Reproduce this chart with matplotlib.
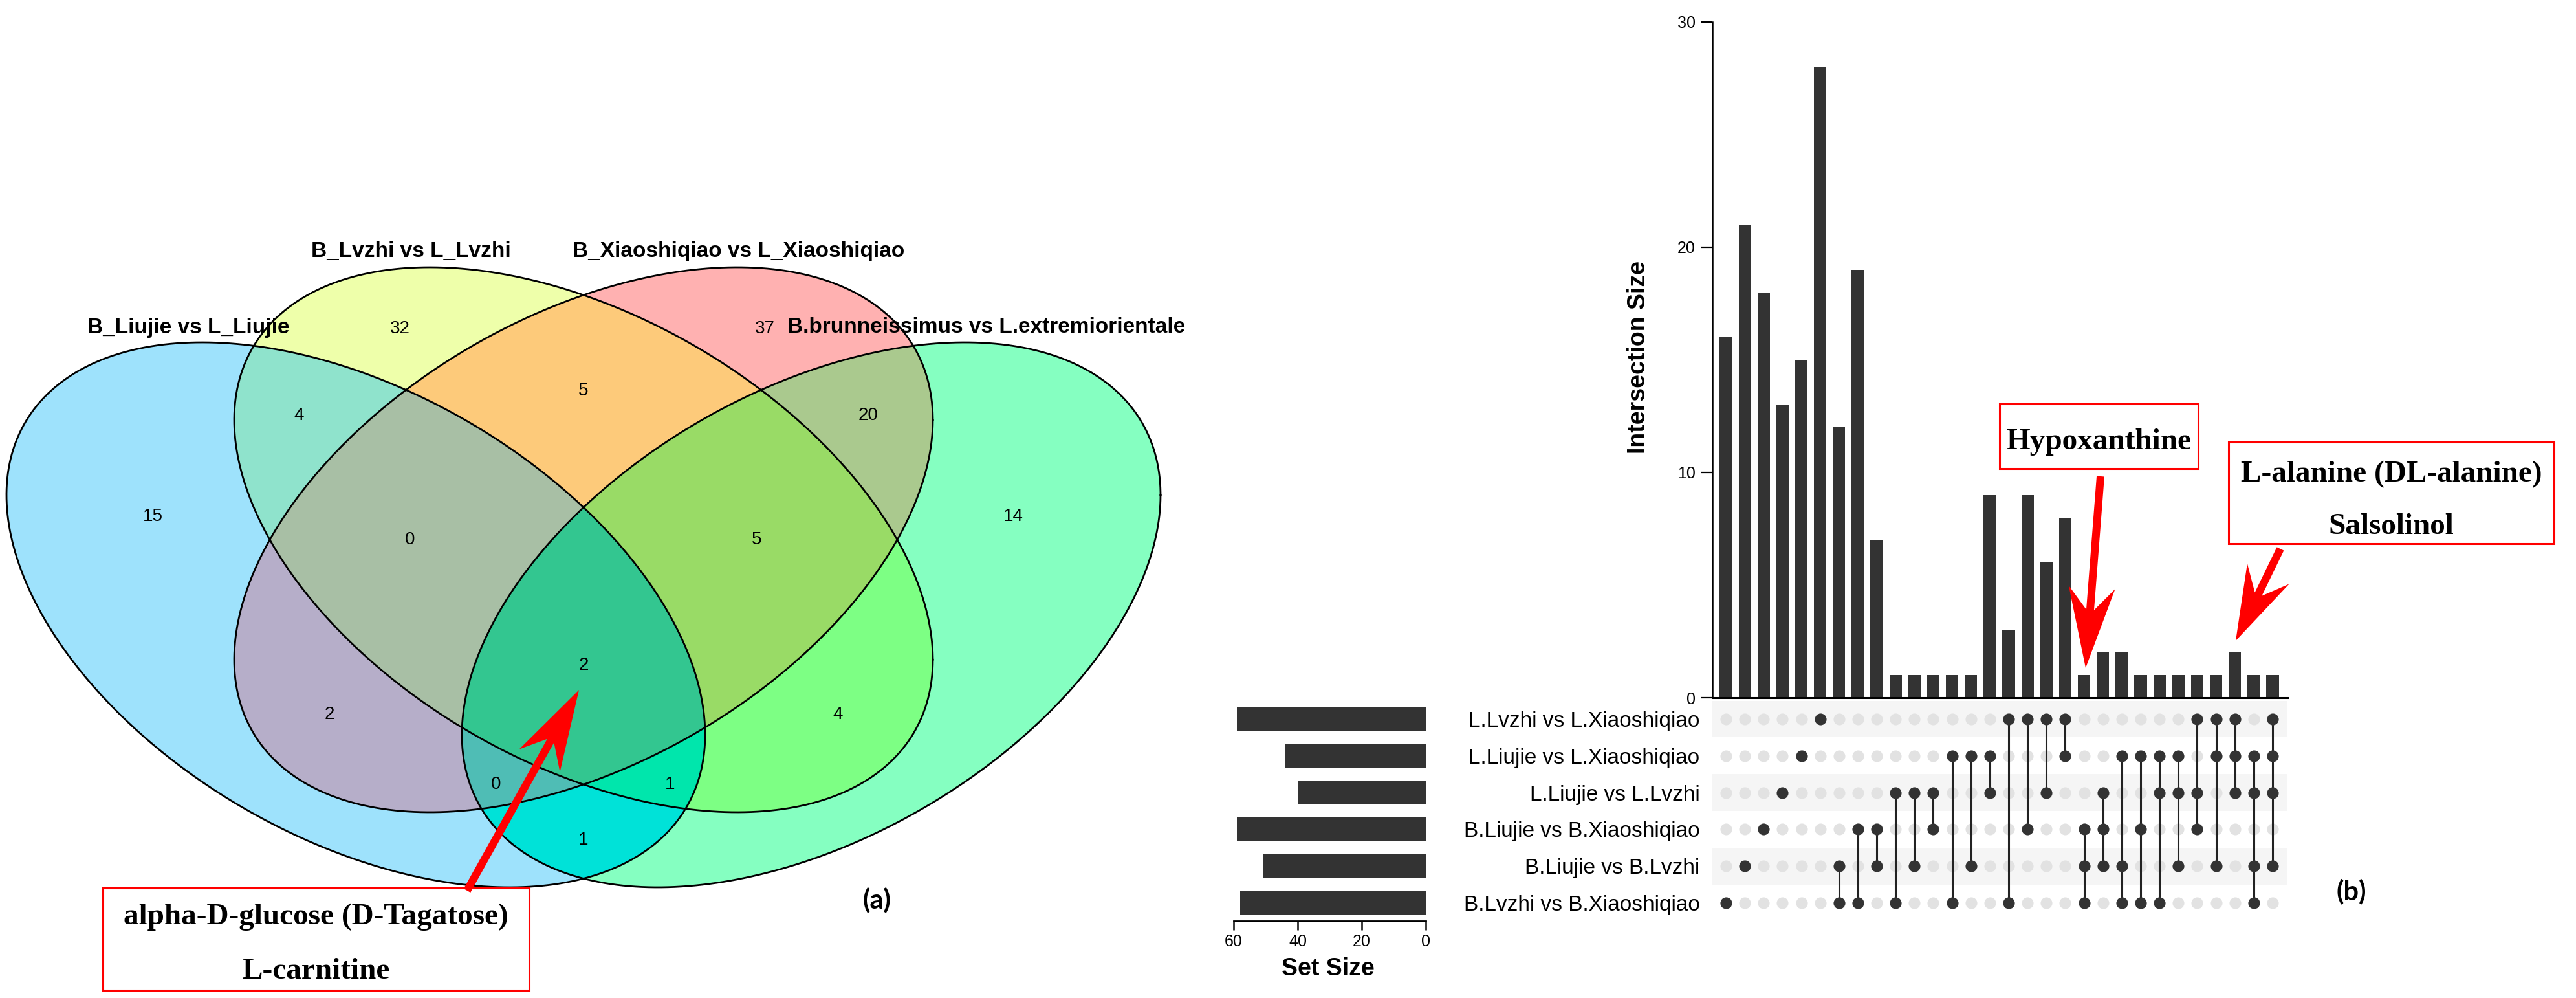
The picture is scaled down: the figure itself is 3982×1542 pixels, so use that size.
import numpy as np
import matplotlib
matplotlib.use("Agg")
import matplotlib.pyplot as plt
from matplotlib.patches import Rectangle, Polygon

plt.rcParams["font.family"] = ["Liberation Sans", "DejaVu Sans"]

# ---------------- data: Venn (a) ----------------
venn_sets = ["B_Liujie vs L_Liujie", "B_Lvzhi vs L_Lvzhi",
             "B_Xiaoshiqiao vs L_Xiaoshiqiao", "B.brunneissimus vs L.extremiorientale"]
venn_regions = ["A", "B", "C", "D", "AB", "BC", "CD", "AC", "BD", "AD",
                "ABC", "BCD", "ACD", "ABD", "ABCD"]
venn_counts = [15, 32, 37, 14, 4, 5, 20, 2, 4, 1, 0, 5, 0, 1, 2]

# ---------------- data: UpSet (b) ----------------
upset_sets = ["L.Lvzhi vs L.Xiaoshiqiao", "L.Liujie vs L.Xiaoshiqiao", "L.Liujie vs L.Lvzhi",
              "B.Liujie vs B.Xiaoshiqiao", "B.Liujie vs B.Lvzhi", "B.Lvzhi vs B.Xiaoshiqiao"]
upset_combos = [(5,), (4,), (3,), (2,), (1,), (0,), (4, 5), (3, 5), (3, 4), (2, 5),
                (2, 4), (2, 3), (1, 5), (1, 4), (1, 2), (0, 5), (0, 3), (0, 2), (0, 1),
                (3, 4, 5), (2, 3, 4), (1, 4, 5), (1, 3, 5), (1, 2, 5), (1, 2, 4),
                (0, 2, 3), (0, 1, 4), (0, 1, 2), (1, 2, 4, 5), (0, 1, 2, 4)]
upset_sizes = [16, 21, 18, 13, 15, 28, 12, 19, 7, 1, 1, 1, 1, 1, 9, 3, 9, 6, 8,
               1, 2, 2, 1, 1, 1, 1, 1, 2, 1, 1]

venn_note = ["alpha-D-glucose (D-Tagatose)", "L-carnitine"]
hypo_note = ["Hypoxanthine"]
ala_note = ["L-alanine (DL-alanine)", "Salsolinol"]

set_sizes = [sum(s for c, s in zip(upset_combos, upset_sizes) if r in c)
             for r in range(len(upset_sets))]

# ---------------- layout helpers (pixel space) ----------------
W, H = 3982, 1542
fig = plt.figure(figsize=(W / 100, H / 100), dpi=100)


def frac(l, t, r, b):
    return [l / W, 1 - b / H, (r - l) / W, (b - t) / H]


# ---------------- UpSet bars ----------------
xlo, xhi = -0.72, 29.79
axb = fig.add_axes(frac(2647, 34, 3536, 1078))
x = np.arange(len(upset_sizes))
axb.bar(x, upset_sizes, width=0.66, color="#333333")
axb.set_xlim(xlo, xhi)
axb.set_ylim(0, 30)
axb.set_yticks([0, 10, 20, 30])
axb.set_xticks([])
axb.patch.set_alpha(0)
for s in ["top", "right"]:
    axb.spines[s].set_visible(False)
axb.spines["left"].set_linewidth(1.8)
axb.spines["bottom"].set_linewidth(2.2)
axb.tick_params(axis="y", length=13, width=1.6, labelsize=18, pad=6)

# ---------------- UpSet matrix ----------------
axm = fig.add_axes(frac(2647, 1082.6, 3536, 1423.4))
axm.set_xlim(xlo, xhi)
axm.set_ylim(len(upset_sets) - 0.5, -0.5)
for r in range(0, len(upset_sets), 2):
    axm.axhspan(r - 0.5, r + 0.5, color="#f5f5f5", lw=0, zorder=0)
gx, gy = np.meshgrid(x, np.arange(len(upset_sets)))
axm.scatter(gx.ravel(), gy.ravel(), s=170, color="#e2e2e2", lw=0, zorder=1)
for i, c in enumerate(upset_combos):
    if len(c) > 1:
        axm.plot([i, i], [min(c), max(c)], color="#222222", lw=2.2, zorder=2)
    axm.scatter([i] * len(c), list(c), s=170, color="#333333", lw=0, zorder=3)
axm.set_yticks(range(len(upset_sets)))
axm.set_yticklabels(upset_sets, fontsize=24)
axm.set_xticks([])
axm.tick_params(axis="y", length=0, pad=14)
for s in axm.spines.values():
    s.set_visible(False)

# ---------------- set size bars ----------------
axs = fig.add_axes(frac(1907, 1082.6, 2204, 1423.4))
axs.barh(range(len(upset_sets)), set_sizes, height=0.65, color="#333333")
axs.set_xlim(60, 0)
axs.set_ylim(len(upset_sets) - 0.5, -0.5)
axs.set_xticks([60, 40, 20, 0])
axs.set_yticks([])
for s in ["top", "right", "left"]:
    axs.spines[s].set_visible(False)
axs.spines["bottom"].set_linewidth(2.0)
axs.tick_params(axis="x", length=10, width=1.8, labelsize=18, pad=4)

# ---------------- overlay: Venn + annotations ----------------
ov = fig.add_axes([0, 0, 1, 1])
ov.patch.set_alpha(0)
ov.axis("off")

# ellipse layout: centre and off-diagonal of the shape matrix
ell_shape = {"A": ((550, 950), 100000), "B": ((902, 834), 100000),
             "C": ((902, 834), -100000), "D": ((1254, 950), -100000)}
SXX, SYY = 540.0 ** 2, 421.0 ** 2
region_colors = {"A": "#9ee2fc", "B": "#eeffaa", "C": "#ffb1b1", "D": "#85ffc1",
                 "AB": "#8fe3cc", "BC": "#fdca7a", "CD": "#aac98e", "AC": "#b6aec9",
                 "BD": "#7dff84", "AD": "#00e2d8", "ABC": "#a8bfa5", "BCD": "#99db66",
                 "ACD": "#4fbdb5", "ABD": "#00e6ac", "ABCD": "#33c690"}

gxs = np.arange(0, 1850)
gys = np.arange(380, 1420)
PX, PY = np.meshgrid(gxs, gys)
code = np.full(PX.shape, "", dtype=object)
for k, ((cx, cy), sxy) in ell_shape.items():
    det = SXX * SYY - sxy ** 2
    dx, dy = PX - cx, PY - cy
    q = (SYY * dx ** 2 - 2 * sxy * dx * dy + SXX * dy ** 2) / det
    code = np.where(q <= 1, code + k, code)
img = np.zeros(PX.shape + (4,))
for reg, col in region_colors.items():
    img[code == reg] = matplotlib.colors.to_rgba(col)
ov.imshow(img, extent=(-0.5, gxs[-1] + 0.5, gys[-1] + 0.5, 379.5),
          origin="upper", interpolation="nearest", aspect="auto", zorder=1)

t = np.linspace(0, 2 * np.pi, 600)
for k, ((cx, cy), sxy) in ell_shape.items():
    L = np.linalg.cholesky(np.array([[SXX, sxy], [sxy, SYY]]))
    pts = L @ np.vstack([np.cos(t), np.sin(t)])
    ov.plot(cx + pts[0], cy + pts[1], color="black", lw=2.0, zorder=2)

count_pos = {"A": (236, 798), "B": (618, 508), "C": (1182, 508), "D": (1566, 798),
             "AB": (462, 642), "BC": (902, 604), "CD": (1342, 642),
             "ABC": (634, 834), "BCD": (1170, 834), "AC": (509, 1104), "BD": (1295, 1104),
             "ABCD": (902, 1028), "ACD": (767, 1212), "ABD": (1036, 1212), "AD": (902, 1298)}
for reg, n in zip(venn_regions, venn_counts):
    px, py = count_pos[reg]
    ov.text(px, py, str(n), fontsize=20, ha="center", va="center", zorder=3)

label_pos = [(291, 506), (635, 388), (1142, 388), (1525, 506)]
for name, (px, py) in zip(venn_sets, label_pos):
    ov.text(px, py, name, fontsize=24, fontweight="bold", ha="center", va="center", zorder=3)

ov.text(1355, 1390, "(a)", fontsize=30, fontweight="bold", family=["Lato", "DejaVu Sans"],
        ha="center", va="center")
ov.text(3635, 1377, "(b)", fontsize=30, fontweight="bold", family=["Lato", "DejaVu Sans"],
        ha="center", va="center")
ov.text(2533, 552, "Intersection Size", fontsize=27, fontweight="bold", rotation=90,
        ha="center", va="center")
ov.text(2053, 1497, "Set Size", fontsize=27, fontweight="bold", ha="center", va="center")


def note_box(l, t, r, b, lines, baselines):
    ov.add_patch(Rectangle((l, t), r - l, b - t, fill=False, ec="#ff0000", lw=2.2, zorder=4))
    for s, yb in zip(lines, baselines):
        ov.text((l + r) / 2, yb, s, fontsize=34, fontweight="bold",
                family=["Liberation Serif", "DejaVu Serif"], ha="center", va="baseline", zorder=5)


def red_arrow(tail, tip, shaft=12, head_len=125, head_w=72, notch=35):
    tail = np.array(tail, float)
    tip = np.array(tip, float)
    d = tip - tail
    u = d / np.hypot(*d)
    n = np.array([-u[1], u[0]])
    base = tip - u * head_len
    neck = base + u * notch
    pts = [tail + n * shaft / 2, neck + n * shaft / 2, base + n * head_w / 2, tip,
           base - n * head_w / 2, neck - n * shaft / 2, tail - n * shaft / 2]
    ov.add_patch(Polygon(pts, closed=True, color="#ff0000", lw=0, zorder=6))


note_box(159, 1372, 818, 1530, venn_note, [1428, 1512])
note_box(3091, 624, 3398, 724, hypo_note, [694])
note_box(3445, 683, 3948, 840, ala_note, [744, 825])

red_arrow((722, 1376), (895, 1066))
red_arrow((3247, 736), (3224, 1032))
red_arrow((3525, 848), (3456, 990), head_len=115)

ov.set_xlim(0, W)
ov.set_ylim(H, 0)

fig.savefig("out.png", dpi=100, facecolor="white")
